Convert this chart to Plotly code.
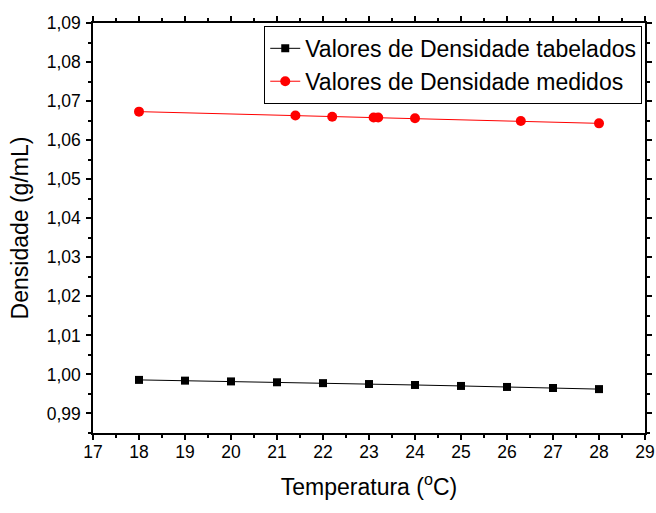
import plotly.graph_objects as go

temp_tab = [18, 19, 20, 21, 22, 23, 24, 25, 26, 27, 28]
dens_tab = [0.99860, 0.99841, 0.99821, 0.99799, 0.99777, 0.99754,
            0.99730, 0.99705, 0.99679, 0.99652, 0.99624]

temp_med = [18.0, 21.4, 22.2, 23.1, 23.2, 24.0, 26.3, 28.0]
dens_med = [1.0673, 1.0663, 1.0660, 1.0658, 1.0658, 1.0656, 1.0649, 1.0643]

font = "Liberation Sans, Arial, sans-serif"

fig = go.Figure()
fig.add_trace(go.Scatter(
    x=temp_tab, y=dens_tab, mode="lines+markers",
    name="Valores de Densidade tabelados",
    line=dict(color="black", width=1),
    marker=dict(symbol="square", size=8, color="black"),
))
fig.add_trace(go.Scatter(
    x=temp_med, y=dens_med, mode="lines+markers",
    name="Valores de Densidade medidos",
    line=dict(color="red", width=1),
    marker=dict(symbol="circle", size=10, color="red"),
))

axis_common = dict(
    showline=True, linecolor="black", linewidth=1.5, mirror="allticks",
    ticks="outside", ticklen=5, tickwidth=1.5, tickcolor="black",
    showgrid=False, zeroline=False, automargin=False,
    tickfont=dict(family=font, size=17.5, color="black"),
)

fig.update_xaxes(
    range=[17, 29], dtick=1, tick0=17, ticklabelstandoff=-3,
    minor=dict(ticks="outside", ticklen=3, tickcolor="black", dtick=0.5, tick0=17, showgrid=False),
    title=dict(text="Temperatura (<sup>o</sup>C)", font=dict(family=font, size=23, color="black"), standoff=18),
    **axis_common,
)
fig.update_yaxes(
    range=[0.985, 1.09], dtick=0.01, tick0=0.99, tickformat=".2f", ticklabelstandoff=2,
    minor=dict(ticks="outside", ticklen=3, tickcolor="black", dtick=0.005, tick0=0.99, showgrid=False),
    title=dict(text="Densidade (g/mL)", font=dict(family=font, size=23, color="black"), standoff=12),
    **axis_common,
)

fig.update_layout(
    width=656, height=513,
    margin=dict(l=93, r=11, t=23, b=80),
    plot_bgcolor="white", paper_bgcolor="white",
    separators=",.",
    font=dict(family=font, color="black"),
    legend=dict(
        x=0.995, y=0.993, xanchor="right", yanchor="top",
        bordercolor="black", borderwidth=1, bgcolor="white",
        font=dict(family=font, size=23, color="black"),
        tracegroupgap=0, itemwidth=30,
    ),
    showlegend=True,
)

fig.write_html("out.html")
